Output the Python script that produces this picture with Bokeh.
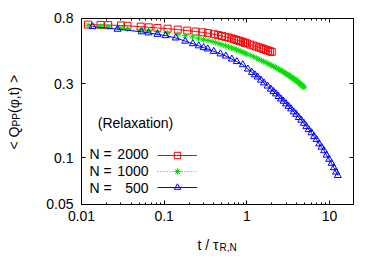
from math import pi, log10
from bokeh.plotting import figure
from bokeh.models import (LogAxis, FixedTicker, CustomJSTickFormatter, Label,
                          Legend, LegendItem, Range1d)
from bokeh.embed import file_html
from bokeh.resources import INLINE

# ---- data ----
t_2000 = [0.012, 0.017, 0.021, 0.030, 0.036, 0.052, 0.065, 0.083, 0.11, 0.146,
          0.19, 0.24, 0.29, 0.34, 0.40, 0.45, 0.50, 0.55, 0.60, 0.65,
          0.70, 0.75, 0.80, 0.85, 0.90, 0.95, 1.0, 1.1, 1.2, 1.3,
          1.4, 1.5, 1.6, 1.7, 1.8, 1.9, 2.0]
q_2000 = [0.727, 0.724, 0.722, 0.718, 0.715, 0.705, 0.698, 0.692, 0.684, 0.675,
          0.665, 0.656, 0.648, 0.640, 0.630, 0.622, 0.614, 0.606, 0.599, 0.592,
          0.585, 0.578, 0.572, 0.566, 0.560, 0.554, 0.549, 0.540, 0.532, 0.524,
          0.517, 0.511, 0.505, 0.499, 0.494, 0.489, 0.484]

t_1000 = [0.012, 0.017, 0.021, 0.03, 0.036, 0.052, 0.065, 0.083, 0.11, 0.146,
          0.18, 0.22, 0.26, 0.30, 0.34, 0.38, 0.42, 0.46, 0.50,
          0.55, 0.60, 0.65, 0.70, 0.75, 0.80, 0.85, 0.90, 0.95, 1.0,
          1.1, 1.2, 1.3, 1.4, 1.5, 1.6, 1.7, 1.8, 1.9, 2.0,
          2.1, 2.2, 2.3, 2.4, 2.5, 2.6, 2.7, 2.8, 2.9, 3.0,
          3.1, 3.2, 3.3, 3.4, 3.5, 3.6, 3.7, 3.8, 3.9, 4.0,
          4.1, 4.2, 4.3, 4.4, 4.5, 4.6, 4.7, 4.8, 4.9]
q_1000 = [0.720, 0.709, 0.702, 0.690, 0.684, 0.671, 0.663, 0.653, 0.641, 0.629,
          0.617, 0.605, 0.593, 0.583, 0.574, 0.565, 0.556, 0.547, 0.539,
          0.530, 0.522, 0.514, 0.507, 0.500, 0.493, 0.487, 0.481, 0.475, 0.470,
          0.460, 0.451, 0.442, 0.434, 0.426, 0.419, 0.413, 0.407, 0.401, 0.395,
          0.390, 0.385, 0.380, 0.375, 0.371, 0.366, 0.362, 0.358, 0.353, 0.349,
          0.345, 0.342, 0.338, 0.334, 0.331, 0.327, 0.324, 0.321, 0.318, 0.315,
          0.311, 0.308, 0.304, 0.301, 0.298, 0.295, 0.292, 0.289, 0.286]

t_500 = [0.0136, 0.0273, 0.0534, 0.0648, 0.083, 0.104, 0.138, 0.18, 0.222, 0.262,
         0.30, 0.336, 0.398, 0.48, 0.557, 0.658, 0.756, 0.893, 1.03, 1.15,
         1.25, 1.35, 1.48, 1.61, 1.78, 1.95, 2.1, 2.25, 2.42, 2.59,
         2.78, 2.98, 3.2, 3.43, 3.7, 3.96, 4.25, 4.56, 4.9, 5.25,
         5.6, 6.05, 6.5, 6.97, 7.5, 8.0, 8.6, 9.2, 9.9, 10.6,
         11.3, 12.0, 12.6]
q_500 = [0.706, 0.679, 0.653, 0.643, 0.629, 0.617, 0.596, 0.568, 0.547, 0.530,
         0.516, 0.506, 0.488, 0.470, 0.455, 0.435, 0.419, 0.400, 0.375, 0.357,
         0.344, 0.333, 0.318, 0.305, 0.291, 0.278, 0.268, 0.259, 0.249, 0.240,
         0.232, 0.223, 0.215, 0.207, 0.198, 0.191, 0.182, 0.175, 0.167, 0.159,
         0.152, 0.145, 0.137, 0.131, 0.123, 0.117, 0.111, 0.104, 0.0977, 0.092,
         0.0861, 0.0807, 0.0767]

x_ticks = [0.01, 0.1, 1, 10]
y_ticks = [0.05, 0.1, 0.3, 0.8]
x_box = (0.01, 19.5)
y_box = (0.05, 0.8)
series_names = ["2000", "1000", "500"]
note_text = "(Relaxation)"

FONT = "Liberation Sans"
RED, GREEN, BLUE = "#ff0000", "#00e000", "#0000ff"

# ---- layout: the frame fills the canvas; the visible box is drawn by
#      fixed-location axes so that text outside the box is not clipped ----
W, H = 372, 258
BOX_L, BOX_R, BOX_T, BOX_B = 81, 353, 17.7, 203.7
dx = (log10(x_box[1]) - log10(x_box[0])) / (BOX_R - BOX_L)
dy = (log10(y_box[1]) - log10(y_box[0])) / (BOX_B - BOX_T)
x_rng = (10 ** (log10(x_box[0]) - BOX_L * dx), 10 ** (log10(x_box[1]) + (W - BOX_R) * dx))
y_rng = (10 ** (log10(y_box[0]) - (H - BOX_B) * dy), 10 ** (log10(y_box[1]) + BOX_T * dy))

p = figure(width=W, height=H, x_axis_type="log", y_axis_type="log",
           x_range=Range1d(*x_rng), y_range=Range1d(*y_rng),
           x_axis_location=None, y_axis_location=None,
           output_backend="svg", toolbar_location=None,
           min_border_left=0, min_border_right=0, min_border_top=0,
           min_border_bottom=0)
p.grid.visible = False
p.outline_line_color = None
p.background_fill_color = "white"
p.border_fill_color = "white"

x_minor = [m * 10.0 ** e for e in (-2, -1, 0, 1) for m in range(2, 10)
           if m * 10.0 ** e < x_box[1]]
xt = FixedTicker(ticks=x_ticks, minor_ticks=x_minor)
yt = FixedTicker(ticks=y_ticks, minor_ticks=[])
fmt = CustomJSTickFormatter(code="return tick.toString();")
empty = CustomJSTickFormatter(code="return '';")


def make_axis(ticker, formatter, loc, bounds, standoff):
    ax = LogAxis(ticker=ticker, formatter=formatter, fixed_location=loc,
                 bounds=bounds, major_label_standoff=standoff)
    ax.axis_line_color = "black"
    ax.major_tick_in = 4
    ax.major_tick_out = 0
    ax.minor_tick_in = 2
    ax.minor_tick_out = 0
    ax.major_tick_line_color = "black"
    ax.minor_tick_line_color = "black"
    ax.major_label_text_font = FONT
    ax.major_label_text_font_size = "14px"
    ax.major_label_text_color = "black"
    return ax


p.add_layout(make_axis(xt, fmt, y_box[0], x_box, 7), "below")
p.add_layout(make_axis(yt, fmt, x_box[0], y_box, 8), "left")
p.add_layout(make_axis(xt, empty, y_box[1], x_box, 0), "above")
p.add_layout(make_axis(yt, empty, x_box[1], y_box, 0), "right")

# ---- series ----
l1 = p.line(t_2000, q_2000, line_color=RED, line_width=1)
s1 = p.scatter(t_2000, q_2000, marker="square", size=7, fill_color=None,
               line_color=RED, line_width=1)
l2 = p.line(t_1000, q_1000, line_color=GREEN, line_width=1, line_dash="1 2")
s2 = p.scatter(t_1000, q_1000, marker="asterisk", size=6, line_color=GREEN, line_width=1)
l3 = p.line(t_500, q_500, line_color=BLUE, line_width=1)
s3 = p.scatter(t_500, q_500, marker="triangle", size=7, fill_color=None,
               line_color=BLUE, line_width=1)

legend = Legend(items=[LegendItem(label=" ", renderers=[l1, s1]),
                       LegendItem(label=" ", renderers=[l2, s2]),
                       LegendItem(label=" ", renderers=[l3, s3])],
                location=(157, 63), glyph_width=40, glyph_height=16,
                label_width=0, label_height=16, label_standoff=0,
                spacing=0, padding=0, margin=0,
                border_line_alpha=0, background_fill_alpha=0,
                label_text_font_size="1px")
p.add_layout(legend)


def txt(x, y, s, size="14px", align="left", baseline="middle", angle=0.0):
    p.add_layout(Label(x=x, y=y, x_units="screen", y_units="screen", text=s,
                       angle=angle, text_font=FONT, text_font_size=size,
                       text_baseline=baseline, text_align=align, text_color="black"))


# legend texts
for name, yy in zip(series_names, [105, 88, 71]):
    txt(89, yy, "N =")
    txt(148, yy, name, align="right")

txt(135, 136, note_text, align="center")

# y axis label: < Q_PP(phi,t) >
txt(13.5, 109, "< Q", baseline="alphabetic", angle=pi / 2)
txt(15.5, 132, "PP", size="10px", baseline="alphabetic", angle=pi / 2)
txt(13.5, 145.5, "(φ,t) >", baseline="alphabetic", angle=pi / 2)

# x axis label: t / tau_R,N
txt(197, 14, "t / τ", baseline="alphabetic")
txt(219, 11, "R,N", size="10px", baseline="alphabetic")

open("out.html", "w").write(file_html(p, INLINE))
